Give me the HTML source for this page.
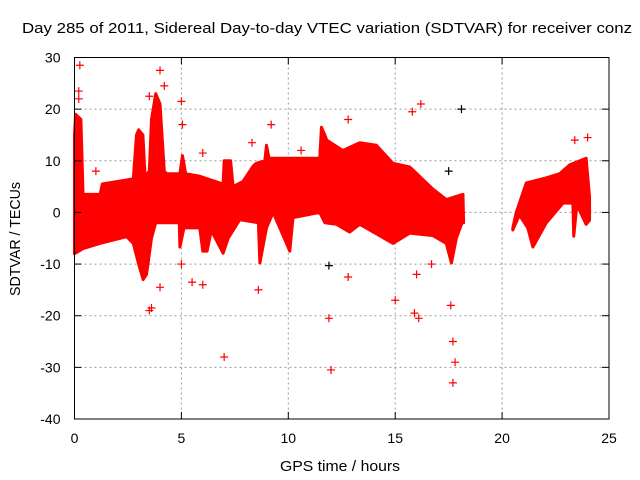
<!DOCTYPE html>
<html><head><meta charset="utf-8"><style>
body{margin:0;background:#fff;}
svg{display:block;font-family:"Liberation Sans",sans-serif;}
</style></head><body>
<svg id="chart" width="640" height="480">
<rect width="640" height="480" fill="#fff"/>
<text x="22" y="33" font-size="15" textLength="610" lengthAdjust="spacingAndGlyphs">Day 285 of 2011, Sidereal Day-to-day VTEC variation (SDTVAR) for receiver conz</text>
<text x="280" y="471" font-size="15" textLength="120" lengthAdjust="spacingAndGlyphs">GPS time / hours</text>
<text transform="translate(20,296) rotate(-90)" font-size="15" textLength="114" lengthAdjust="spacingAndGlyphs">SDTVAR / TECUs</text>
<g id="grid"></g>
<g id="marks"></g>
<g id="axes"></g>
</svg>
<script>
const xTicks=[0,5,10,15,20,25];
const yTicks=[30,20,10,0,-10,-20,-30,-40];
const seg1UpperH=[0,0.05,0.3,0.4,1.2,1.3,2.75,2.9,3.0,3.2,3.3,3.5,3.6,3.8,4.0,4.2,4.31,4.93,5.05,5.2,5.86,6.95,7.0,7.3,7.42,7.88,8.36,8.5,8.9,8.98,9.1,9.29,11.47,11.55,11.71,11.8,12.55,13.34,14.12,14.9,15.68,16.77,17.39,18.17,18.2];
const seg1UpperV=[15,19,18,3.5,3.5,5.5,6.5,15,16,15,7,8,18,23,21,8,7.5,7.5,11,7.5,7,5.5,10,10,5,6,9,9.5,10,13,10.5,10.5,10.5,16.5,15,14,12,13.5,13,9.5,8.8,4.5,2.5,3.5,-2];
const seg1LowerH=[0,0.4,1.19,2.44,2.75,3.0,3.21,3.37,3.6,3.8,4.9,4.93,5.12,5.86,6.0,6.2,6.4,6.95,7.19,7.73,8.6,8.67,8.98,9.29,10.07,10.22,11.47,11.71,12.25,12.87,13.34,14.9,15.68,16.77,17.39,17.63,17.86,18.17];
const seg1LowerV=[-8,-7,-6,-4.7,-6,-10,-13,-12,-5,-2,-2,-6.7,-3,-3,-7.5,-7.5,-3.5,-7.9,-5,-1.4,-2,-9.8,-3,0,-7.5,-1,0,-2,-2.3,-3.8,-2.3,-6,-4,-4.5,-6,-9.8,-5,-1.5];
const seg2UpperH=[20.5,20.66,21.13,22.07,22.69,23.16,23.93,24.09];
const seg2UpperV=[-3,0,5.7,6.7,7.5,9.2,10.5,3];
const seg2LowerH=[20.5,20.81,21.2,21.44,22.07,22.85,23.31,23.35,23.5,23.93,24.09];
const seg2LowerV=[-3.4,-0.5,-3,-6.7,-2,1.8,1.8,-4.6,1.5,-2.3,-1.5];
const outH=[0.25,0.2,0.2,1,3.5,4,4.2,5,5.05,6,8.3,9.2,10.6,12.8,15.8,16.2,23.4,24,11.9,12,12.8,15,15.9,16.1,17.6,17.7,17.8,17.7,7,8.6,3.5,3.6,5.5,6,4,5,16,16.7];
const outV=[28.5,23.5,22,8,22.5,27.5,24.5,21.5,17,11.5,13.5,17,12,18,19.5,21,14,14.5,-20.5,-30.5,-12.5,-17,-19.5,-20.5,-18,-25,-29,-33,-28,-15,-19,-18.5,-13.5,-14,-14.5,-10,-12,-10];
const blkH=[18.1,11.9,17.5];
const blkV=[20,-10.3,8];

const L=74.5,R=609,T=57.5,B=419;
const xs=h=>L+(h-0)/25*(R-L);
const ys=v=>B-(v+40)/70*(B-T);
const NS='http://www.w3.org/2000/svg';
function mk(tag,attrs,parent){const e=document.createElementNS(NS,tag);for(const k in attrs)e.setAttribute(k,attrs[k]);parent.appendChild(e);return e;}
const grid=document.getElementById('grid'),marks=document.getElementById('marks'),axes=document.getElementById('axes');
xTicks.forEach(t=>{
 if(t>0&&t<25){const g=mk('line',{x1:xs(t),x2:xs(t),y1:T,y2:B,stroke:'#999','stroke-dasharray':'2,3'},grid);
 
 }
 const tl=mk('text',{x:xs(t),y:B+24,'font-size':14,'text-anchor':'middle'},axes);tl.textContent=t;
 
 
 mk('line',{x1:xs(t),x2:xs(t),y1:B,y2:B-7,stroke:'#000'},axes);
 mk('line',{x1:xs(t),x2:xs(t),y1:T,y2:T+7,stroke:'#000'},axes);
});
yTicks.forEach(t=>{
 if(t<30&&t>-40){const g=mk('line',{x1:L,x2:R,y1:ys(t),y2:ys(t),stroke:'#999','stroke-dasharray':'2,3'},grid);
 
 }
 const tl=mk('text',{x:L-14,y:ys(t)+5,'font-size':14,'text-anchor':'end'},axes);tl.textContent=t;
 
 
 mk('line',{x1:L,x2:L+7,y1:ys(t),y2:ys(t),stroke:'#000'},axes);
 mk('line',{x1:R,x2:R-7,y1:ys(t),y2:ys(t),stroke:'#000'},axes);
});
const frame=mk('rect',{x:L,y:T,width:R-L,height:B-T,fill:'none',stroke:'#000'},axes);


function band(uh,uv,lh,lv,name){
 let pts=[];for(let i=0;i<uh.length;i++)pts.push(xs(uh[i])+','+ys(uv[i]));
 for(let i=lh.length-1;i>=0;i--)pts.push(xs(lh[i])+','+ys(lv[i]));
 const p=mk('polygon',{points:pts.join(' '),fill:'#f00',stroke:'#f00','stroke-width':3,'stroke-linejoin':'round'},marks);
 
 
}
band(seg1UpperH,seg1UpperV,seg1LowerH,seg1LowerV,'sdtvar-band-1');
band(seg2UpperH,seg2UpperV,seg2LowerH,seg2LowerV,'sdtvar-band-2');
function plus(h,v,c,name){
 const x=xs(h),y=ys(v);
 const p=mk('path',{d:`M${x-4},${y}H${x+4}M${x},${y-4}V${y+4}`,stroke:c,'stroke-width':1.2,fill:'none'},marks);
 
 
}
outH.forEach((h,i)=>plus(h,outV[i],'#f00','outlier-point'));
blkH.forEach((h,i)=>plus(h,blkV[i],'#000','black-point'));
</script>
</body></html>
